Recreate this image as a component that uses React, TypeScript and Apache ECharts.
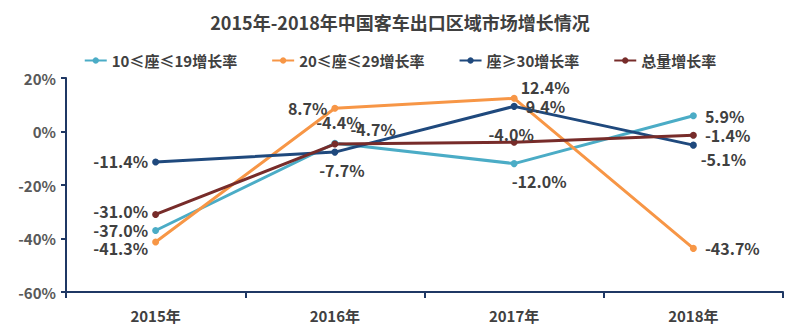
import React, { useEffect, useRef } from "react";
import * as echarts from "echarts";

const years = ["2015年", "2016年", "2017年", "2018年"];
const seriesNames = ["10≤座≤19增长率", "20≤座≤29增长率", "座≥30增长率", "总量增长率"];
const small = [-37.0, -4.4, -12.0, 5.9];
const medium = [-41.3, 8.7, 12.4, -43.7];
const large = [-11.4, -7.7, 9.4, -5.1];
const total = [-31.0, -4.7, -4.0, -1.4];

const colors = ["#4bacc6", "#f79646", "#1f497d", "#772c2a"];

// label placement per point (style only)
const labelPlacement: any[][] = [
  [
    { position: "left", offset: [0, 0] },
    { position: "top", offset: [4, -6] },
    { position: "bottom", offset: [25, 2] },
    { position: "right", offset: [4, 0] },
  ],
  [
    { position: "left", offset: [0, 6] },
    { position: "left", offset: [0, 0] },
    { position: "top", offset: [31, 4] },
    { position: "right", offset: [4, 0] },
  ],
  [
    { position: "left", offset: [0, -1] },
    { position: "bottom", offset: [7, 2] },
    { position: "right", offset: [4, 0] },
    { position: "bottom", offset: [30, -2] },
  ],
  [
    { position: "left", offset: [0, -3] },
    { position: "right", offset: [8, -15] },
    { position: "top", offset: [-3, 7] },
    { position: "right", offset: [4, 0] },
  ],
];

export default function App() {
  const ref = useRef<HTMLDivElement>(null);
  useEffect(() => {
    if (!ref.current) return;
    const chart = echarts.init(ref.current, undefined, { renderer: "svg" });
    const font = "'Noto Sans CJK SC', 'Noto Sans', sans-serif";
    const all = [small, medium, large, total];
    chart.setOption({
      animation: false,
      backgroundColor: "#ffffff",
      title: {
        text: "2015年-2018年中国客车出口区域市场增长情况",
        left: "center",
        top: 8,
        textStyle: { fontFamily: font, fontSize: 18, fontWeight: "bold", color: "#404040" },
      },
      legend: {
        top: 48,
        left: "center",
        itemGap: 34,
        itemWidth: 22,
        itemHeight: 8,
        textStyle: { fontFamily: font, fontSize: 15, fontWeight: "bold", color: "#404040" },
        data: seriesNames,
      },
      grid: { left: 66, right: 17, top: 78, bottom: 40 },
      xAxis: {
        type: "category",
        data: years,
        boundaryGap: true,
        axisLine: { onZero: false, lineStyle: { color: "#1f3864", width: 2 } },
        axisTick: { show: true, length: 6, lineStyle: { color: "#1f3864", width: 2 } },
        axisLabel: { margin: 16, fontFamily: font, fontSize: 15, fontWeight: "bold", color: "#404040" },
      },
      yAxis: {
        type: "value",
        min: -60,
        max: 20,
        interval: 20,
        axisLine: { show: true, lineStyle: { color: "#1f3864", width: 2 } },
        axisTick: { show: true, length: 5, lineStyle: { color: "#1f3864", width: 2 } },
        splitLine: { show: false },
        axisLabel: {
          margin: 10,
          formatter: "{value}%",
          fontFamily: font,
          fontSize: 15,
          fontWeight: "bold",
          color: "#595959",
        },
      },
      series: all.map((vals, si) => ({
        name: seriesNames[si],
        type: "line",
        symbol: "circle",
        symbolSize: 7,
        color: colors[si],
        lineStyle: { width: 3, color: colors[si] },
        itemStyle: { color: colors[si] },
        data: vals.map((v, i) => ({
          value: v,
          label: {
            show: true,
            position: labelPlacement[si][i].position,
            offset: labelPlacement[si][i].offset,
            distance: 4,
            formatter: (p: any) => `${Number(p.value).toFixed(1)}%`,
            fontFamily: font,
            fontSize: 16,
            lineHeight: 16,
            fontWeight: "bold",
            color: "#404040",
          },
        })),
      })),
    });
    return () => chart.dispose();
  }, []);
  return <div ref={ref} style={{ width: 800, height: 332, position: "absolute", left: 0, top: 0 }} />;
}
